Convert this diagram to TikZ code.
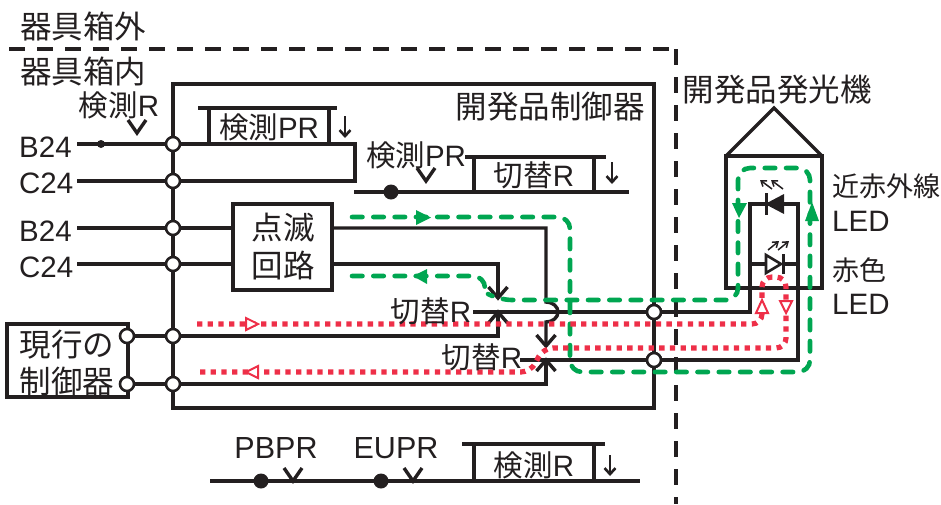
\documentclass[tikz,border=0pt]{standalone}
\usepackage{fontspec}
\setmainfont{Liberation Sans}
\newfontfamily\jpf{Noto Sans CJK JP}
\usetikzlibrary{arrows.meta}
\definecolor{ink}{HTML}{231F20}
\definecolor{grn}{HTML}{00A651}
\definecolor{rd}{HTML}{EE2F48}
\newcommand{\jp}[1]{{\jpf #1}}
\newcommand{\fsz}[1]{\fontsize{#1pt}{#1pt}\selectfont}
\tikzset{
  wire/.style={draw=ink,line width=3.4pt,line join=miter},
  thin wire/.style={draw=ink,line width=3.2pt},
  term/.style={circle,draw=ink,line width=2.6pt,fill=white,minimum size=14pt,inner sep=0pt,outer sep=0pt},
  blob/.style={circle,fill=ink,minimum size=15pt,inner sep=0pt},
  smallblob/.style={circle,fill=ink,minimum size=8pt,inner sep=0pt},
  lab/.style={inner sep=0pt,text=ink,font=\fsz{29.5}},
  head/.style={inner sep=0pt,text=ink,font=\fsz{31.5}},
  box/.style={draw=ink,line width=3.6pt,fill=white,inner sep=0pt,outer sep=0pt},
  gdash/.style={draw=grn,line width=4.6pt,line cap=round,dash pattern=on 10.5pt off 10.8pt,rounded corners=12pt},
  rdot/.style={draw=rd,line width=5.2pt,dash pattern=on 5.3pt off 5.37pt,rounded corners=10pt},
  gtri/.style={fill=grn,draw=none},
  rtri/.style={draw=rd,line width=2pt,fill=white},
  vee/.pic={\draw[draw=ink,line width=3.4pt,miter limit=10] (-9,-13)--(0,0)--(9,-13);},
  veeup/.pic={\draw[draw=ink,line width=3.4pt,miter limit=10] (-9.5,11)--(0,0)--(9.5,11);},
  veedn/.pic={\draw[draw=ink,line width=3.4pt,miter limit=10] (-9.5,-11)--(0,0)--(9.5,-11);},
  ledarrow/.style={draw=ink,line width=1.5pt,-{Straight Barb[length=5pt,width=7pt]}},
  relayarrow/.style={draw=ink,line width=2.6pt,-{Straight Barb[length=6pt,width=11pt]}},
}
\begin{document}
\begin{tikzpicture}[x=1pt,y=-1pt]
\useasboundingbox (0,0) rectangle (941,504);
% coordinates
\coordinate (dashL) at (9,49); \coordinate (dashC) at (676,49); \coordinate (dashB) at (676,504);
\coordinate (b1) at (77,144); \coordinate (c1) at (77,181);
\coordinate (b2) at (77,228); \coordinate (c2) at (77,264);
\coordinate (jr) at (355,144); \coordinate (jc) at (355,181);
\coordinate (apexA) at (498,312); \coordinate (apexB) at (546,360);
\coordinate (forkA) at (498,298); \coordinate (forkB) at (546,346);
\coordinate (sA) at (473,312); \coordinate (sB) at (520,360);
\coordinate (ledL) at (750,204); \coordinate (ledR) at (798,204);
\coordinate (ledL2) at (750,264); \coordinate (ledR2) at (798,264);
% outer boundary
\draw[draw=ink,line width=4pt,dash pattern=on 16pt off 12pt] (dashL) -- (dashC);
\draw[draw=ink,line width=4pt,dash pattern=on 16pt off 12pt] (dashC) -- (dashB);
% controller
\node[draw=ink,line width=3.6pt,minimum width=481pt,minimum height=324pt,inner sep=0pt,outer sep=0pt,anchor=north west] (ctrl) at (173,84) {};
% terminals
\node[term] (t1) at (173,144) {};
\node[term] (t2) at (173,181) {};
\node[term] (t3) at (173,228) {};
\node[term] (t4) at (173,264) {};
\node[term] (t5) at (173,336) {};
\node[term] (t6) at (173,384) {};
\node[term] (t7) at (654,312) {};
\node[term] (t8) at (654,360) {};
% blink box
\node[box,minimum width=99pt,minimum height=86pt,anchor=north west] (blink) at (233,204) {};
\node[head] (blink1) at (283,228) {\jp{点滅}};
\node[head] (blink2) at (283,265) {\jp{回路}};
% existing controller
\node[box,minimum width=121pt,minimum height=73pt,anchor=north west] (old) at (7,324) {};
\node[head] (old1) at (67,345) {\jp{現行の}};
\node[head] (old2) at (67,382) {\jp{制御器}};
\node[term] (o1) at (127,336) {};
\node[term] (o2) at (127,384) {};
% wires
\path[wire] (b1) -- (t1) -- (jr) -- (jc) -- (t2) -- (c1);
\node[smallblob] (d0) at (101,144) {};
\path[wire] (b2) -- (t3) -- (t3-|blink.west);
\path[wire] (c2) -- (t4) -- (t4-|blink.west);
\path[wire] (o1) -- (t5) -- (apexA|-t5) -- (apexA);
\path[wire] (o2) -- (t6) -- (apexB|-t6) -- (apexB);
\path[wire] (blink.east|-t3) -- (546,228) -- (546,302) arc[start angle=-90,end angle=90,x radius=12pt,y radius=-10pt] -- (forkB);
\path[wire] (blink.east|-t4) -- (498,264) -- (forkA);
\path[wire] (sA) -- (t7) -- (ledL|-t7) -- (ledL) -- (ledR) -- (ledR|-t8) -- (t8) -- (sB);
\pic at (apexA) {veeup};
\pic at (apexB) {veeup};
\pic at (forkA) {veedn};
\pic at (forkB) {veedn};
% relays
\path[thin wire] (198,108) -- (337,108);
\path[thin wire] (209,108) -- (209,144);
\path[thin wire] (329,108) -- (329,144);
\node[lab] (rel1) at (269,127) {\jp{検測}PR};
\draw[relayarrow] (345,116) -- (345,138);
\node[lab] (kpr) at (416,155) {\jp{検測}PR};
\coordinate (l2a) at (354,192); \coordinate (l2b) at (629,192);
\path[thin wire] (l2a) -- (l2b);
\node[blob] (d1) at (391,192) {};
\pic at (426,181) {vee};
\path[thin wire] (465,157) -- (606,157);
\path[thin wire] (474,157) -- (474,192);
\path[thin wire] (594,157) -- (594,192);
\node[lab] (rel2) at (534,175) {\jp{切替}R};
\draw[relayarrow] (612,162) -- (612,184);
\coordinate (l3a) at (210,481); \coordinate (l3b) at (640,481);
\path[thin wire] (l3a) -- (l3b);
\node[blob] (d2) at (261,481) {};
\node[blob] (d3) at (381,481) {};
\pic at (293,481) {vee};
\pic at (413,481) {vee};
\path[thin wire] (462,444) -- (605,444);
\path[thin wire] (474,444) -- (474,481);
\path[thin wire] (594,444) -- (594,481);
\node[lab] (rel3) at (534,465) {\jp{検測}R};
\draw[relayarrow] (610,455) -- (610,476);
\node[lab,font=\fsz{30.5}] (pb) at (276,448) {PBPR};
\node[lab,font=\fsz{30.5}] (eu) at (396,448) {EUPR};
\pic at (137,133) {vee};
% emitter housing
\node[draw=ink,line width=3.6pt,minimum width=96pt,minimum height=132pt,inner sep=0pt,outer sep=0pt,anchor=north west] (house) at (726,156) {};
\path[wire] (house.north west) -- (774,108) -- (house.north east);
\path[wire] (ledL) -- (ledL|-t7);
\path[wire] (ledR) -- (ledR|-t8);
\path[wire] (ledL2) -- (ledR2);
% diodes
\fill[ink] (765,204) -- (784,194) -- (784,214) -- cycle;
\draw[draw=ink,line width=3pt] (766,193) -- (766,215);
\fill[white] (765,254) rectangle (783,274);
\draw[draw=ink,line width=2.6pt,fill=white] (766,255) -- (781,264) -- (766,273) -- cycle;
\draw[draw=ink,line width=3pt] (783,254) -- (783,274);
\draw[ledarrow] (772,189) -- (760,180);
\draw[ledarrow] (783,189) -- (771,180);
\draw[ledarrow] (768,250) -- (779,241);
\draw[ledarrow] (778,250) -- (789,241);
% green current path
\path[gdash] (352,217) -- (570,217) -- (570,372) -- (810,372) -- (810,168) -- (738,168) -- (738,300) -- (500,300) -- (488,294);
\path[gdash] (352,276) -- (485,276) -- (485,284);
\fill[gtri] (416,210) -- (431,217.5) -- (416,225) -- cycle;
\fill[gtri] (427,269) -- (413,276) -- (427,284) -- cycle;
\fill[gtri] (732,203) -- (747,203) -- (739,218) -- cycle;
\fill[gtri] (805,221) -- (819,221) -- (812,202) -- cycle;
% red current path
\path[rdot] (197,324) -- (762,324) -- (762,277) -- (786,277) -- (786,348) -- (543,348) -- (531,372) -- (197,372);
\draw[rtri] (246,318) -- (258,324) -- (246,330) -- cycle;
\draw[rtri] (258,366) -- (246,372) -- (258,378) -- cycle;
\draw[rtri] (762,300) -- (768,313) -- (756,313) -- cycle;
\draw[rtri] (780,301) -- (792,301) -- (786,313) -- cycle;
% terminals on top of current paths
\node[term] at (t7) {};
\node[term] at (t8) {};
% labels
\node[head] (out) at (83,26) {\jp{器具箱外}};
\node[head] (in) at (83,71) {\jp{器具箱内}};
\node[lab] (kr) at (119,105) {\jp{検測}R};
\node[head] (ctl) at (550,107) {\jp{開発品制御器}};
\node[head] (emit) at (777,90) {\jp{開発品発光機}};
\node[lab,anchor=west] (b1l) at (19,147) {B24};
\node[lab,anchor=west] (c1l) at (19,183) {C24};
\node[lab,anchor=west] (b2l) at (19,231) {B24};
\node[lab,anchor=west] (c2l) at (19,267) {C24};
\node[lab] (sw1) at (431,311) {\jp{切替}R};
\node[lab] (sw2) at (482,357) {\jp{切替}R};
\node[lab,anchor=west,font=\fsz{27}] (nir) at (832,186) {\jp{近赤外線}};
\node[lab,anchor=west] (nirl) at (832,221) {LED};
\node[lab,anchor=west,font=\fsz{27}] (redl) at (832,270) {\jp{赤色}};
\node[lab,anchor=west] (redl2) at (832,304) {LED};
\end{tikzpicture}
\end{document}
